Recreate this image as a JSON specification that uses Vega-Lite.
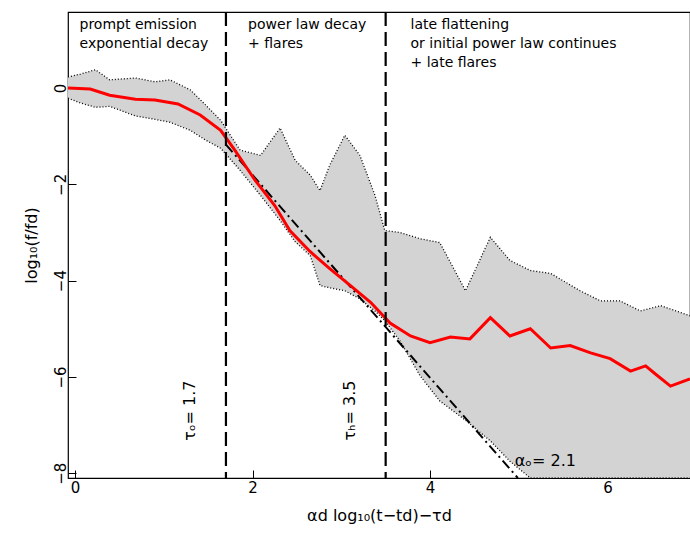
{
"$schema":"https://vega.github.io/schema/vega-lite/v6.json",
"width":622,"height":466,"autosize":"none",
"padding":{"left":68,"top":12,"right":0,"bottom":69},
"background":"white",
"config":{"view":{"stroke":"black","strokeWidth":1.2},"font":"DejaVu Sans",
"axis":{"grid":false,"domain":false,"tickColor":"black","tickSize":-8,"labelFontSize":15,"labelColor":"black","titleFontSize":16,"titleFontWeight":"normal","titleColor":"black","labelPadding":10,"format":"d"}},
"datasets":{
"band":[{"x":-0.08,"hi":0.23,"lo":-0.21},{"x":0.06,"hi":0.29,"lo":-0.31},{"x":0.23,"hi":0.38,"lo":-0.4},{"x":0.39,"hi":0.17,"lo":-0.38},{"x":0.68,"hi":0.21,"lo":-0.58},{"x":0.9,"hi":0.13,"lo":-0.65},{"x":1.07,"hi":0.17,"lo":-0.71},{"x":1.3,"hi":-0.04,"lo":-0.88},{"x":1.47,"hi":-0.35,"lo":-1.08},{"x":1.64,"hi":-0.67,"lo":-1.25},{"x":1.86,"hi":-1.29,"lo":-1.71},{"x":2.09,"hi":-1.4,"lo":-2.23},{"x":2.31,"hi":-0.83,"lo":-2.75},{"x":2.48,"hi":-1.5,"lo":-3.19},{"x":2.65,"hi":-1.81,"lo":-3.48},{"x":2.76,"hi":-2.13,"lo":-4.1},{"x":2.87,"hi":-1.6,"lo":-4.15},{"x":3.04,"hi":-0.98,"lo":-4.21},{"x":3.21,"hi":-1.4,"lo":-4.38},{"x":3.38,"hi":-2.23,"lo":-4.63},{"x":3.49,"hi":-2.96,"lo":-4.83},{"x":3.66,"hi":-3.0,"lo":-5.25},{"x":3.89,"hi":-3.13,"lo":-5.98},{"x":4.11,"hi":-3.21,"lo":-6.5},{"x":4.4,"hi":-4.21,"lo":-6.9},{"x":4.68,"hi":-3.1,"lo":-7.33},{"x":4.9,"hi":-3.58,"lo":-7.75},{"x":5.13,"hi":-3.79,"lo":-8.1},{"x":5.36,"hi":-3.85,"lo":-8.1},{"x":5.69,"hi":-4.21,"lo":-8.1},{"x":5.92,"hi":-4.42,"lo":-8.1},{"x":6.14,"hi":-4.42,"lo":-8.1},{"x":6.37,"hi":-4.63,"lo":-8.1},{"x":6.6,"hi":-4.52,"lo":-8.1},{"x":6.93,"hi":-4.73,"lo":-8.1}],
"red":[{"x":-0.08,"y":0.0},{"x":0.17,"y":-0.02},{"x":0.39,"y":-0.15},{"x":0.68,"y":-0.23},{"x":0.9,"y":-0.25},{"x":1.16,"y":-0.33},{"x":1.41,"y":-0.56},{"x":1.64,"y":-0.88},{"x":1.8,"y":-1.29},{"x":2.03,"y":-1.92},{"x":2.25,"y":-2.44},{"x":2.42,"y":-2.96},{"x":2.65,"y":-3.4},{"x":2.87,"y":-3.75},{"x":3.1,"y":-4.1},{"x":3.33,"y":-4.45},{"x":3.55,"y":-4.88},{"x":3.78,"y":-5.15},{"x":4.0,"y":-5.29},{"x":4.23,"y":-5.17},{"x":4.45,"y":-5.21},{"x":4.68,"y":-4.77},{"x":4.9,"y":-5.15},{"x":5.13,"y":-5.0},{"x":5.36,"y":-5.4},{"x":5.58,"y":-5.35},{"x":5.81,"y":-5.5},{"x":6.03,"y":-5.62},{"x":6.26,"y":-5.88},{"x":6.43,"y":-5.77},{"x":6.54,"y":-5.94},{"x":6.71,"y":-6.19},{"x":6.93,"y":-6.04}],
"pl":[{"x":1.7,"y":-1.175},{"x":4.99,"y":-8.1}],
"vl":[{"x":1.7},{"x":3.5}],
"top":[{"x":0.05,"y":1.45,"t":"prompt emission\nexponential decay"},{"x":1.95,"y":1.45,"t":"power law decay\n+ flares"},{"x":3.78,"y":1.45,"t":"late flattening\nor initial power law continues\n+ late flares"}],
"rot":[{"x":1.3,"y":-6.7,"t":"τₒ=  1.7"},{"x":3.1,"y":-6.7,"t":"τₕ=  3.5"}],
"al":[{"x":5.3,"y":-7.75,"t":"αₒ=  2.1"}]
},
"layer":[
{"data":{"name":"band"},"mark":{"type":"area","color":"#d3d3d3"},
 "encoding":{"x":{"field":"x","type":"quantitative","scale":{"domain":[-0.08,6.93],"nice":false,"zero":false},"axis":{"values":[0,2,4,6],"title":"αd log₁₀(t−td)−τd","titlePadding":12}},
 "y":{"field":"hi","type":"quantitative","scale":{"domain":[-8.1,1.58],"nice":false,"zero":false},"axis":{"values":[0,-2,-4,-6,-8],"title":"log₁₀(f/fd)","titlePadding":14,"labelAngle":-90,"labelAlign":"center","labelBaseline":"bottom","labelPadding":8,"labelBound":false,"labelOverlap":false}},"y2":{"field":"lo"}}},
{"data":{"name":"band"},"mark":{"type":"line","color":"black","strokeDash":[1,2],"strokeWidth":1.3},"encoding":{"x":{"field":"x","type":"quantitative"},"y":{"field":"hi","type":"quantitative"}}},
{"data":{"name":"band"},"mark":{"type":"line","color":"black","strokeDash":[1,2],"strokeWidth":1.3,"clip":true},"encoding":{"x":{"field":"x","type":"quantitative"},"y":{"field":"lo","type":"quantitative"}}},
{"data":{"name":"pl"},"mark":{"type":"line","color":"black","strokeDash":[10,4,2,4],"strokeWidth":2},"encoding":{"x":{"field":"x","type":"quantitative"},"y":{"field":"y","type":"quantitative"}}},
{"data":{"name":"red"},"mark":{"type":"line","color":"#ff0000","strokeWidth":3},"encoding":{"x":{"field":"x","type":"quantitative"},"y":{"field":"y","type":"quantitative"}}},
{"data":{"name":"vl"},"mark":{"type":"rule","color":"black","strokeDash":[14,6],"strokeWidth":2.2},"encoding":{"x":{"field":"x","type":"quantitative"}}},
{"data":{"name":"top"},"mark":{"type":"text","align":"left","baseline":"top","fontSize":14,"lineBreak":"\n","lineHeight":19},"encoding":{"x":{"field":"x","type":"quantitative"},"y":{"field":"y","type":"quantitative"},"text":{"field":"t"}}},
{"data":{"name":"rot"},"mark":{"type":"text","angle":270,"fontSize":16},"encoding":{"x":{"field":"x","type":"quantitative"},"y":{"field":"y","type":"quantitative"},"text":{"field":"t"}}},
{"data":{"name":"al"},"mark":{"type":"text","fontSize":16},"encoding":{"x":{"field":"x","type":"quantitative"},"y":{"field":"y","type":"quantitative"},"text":{"field":"t"}}}
]
}
